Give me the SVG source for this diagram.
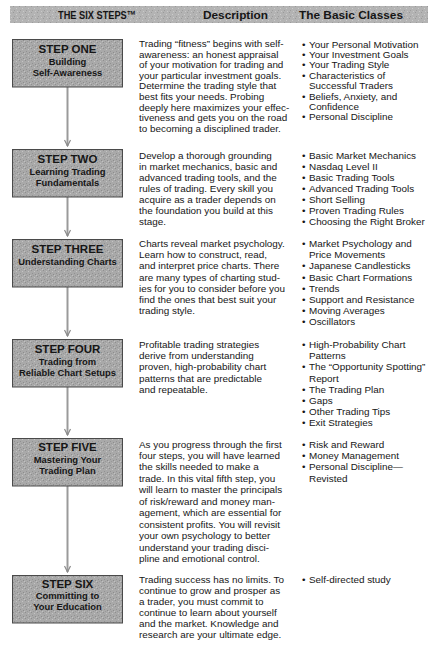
<svg xmlns="http://www.w3.org/2000/svg" width="436" height="646" viewBox="0 0 436 646">
<defs>
<pattern id="grain" width="6" height="6" patternUnits="userSpaceOnUse">
<rect width="6" height="6" fill="#a9a9a9"/>
<rect x="1" y="0" width="1" height="1" fill="#8e8e8e"/>
<rect x="4" y="1" width="1" height="1" fill="#c4c4c4"/>
<rect x="2" y="3" width="1" height="1" fill="#919191"/>
<rect x="5" y="4" width="1" height="1" fill="#8c8c8c"/>
<rect x="0" y="5" width="1" height="1" fill="#c2c2c2"/>
<rect x="3" y="5" width="1" height="1" fill="#999"/>
</pattern>
<pattern id="grainH" width="6" height="6" patternUnits="userSpaceOnUse">
<rect width="6" height="6" fill="#b3b3b3"/>
<rect x="1" y="0" width="1" height="1" fill="#9a9a9a"/>
<rect x="4" y="2" width="1" height="1" fill="#cdcdcd"/>
<rect x="2" y="4" width="1" height="1" fill="#9c9c9c"/>
<rect x="5" y="5" width="1" height="1" fill="#c9c9c9"/>
</pattern>
<marker id="ah" markerWidth="8" markerHeight="8" refX="4" refY="7" orient="0" markerUnits="userSpaceOnUse">
<path d="M1,1 L4,7 L7,1" fill="none" stroke="#8a8a8a" stroke-width="1.2"/>
</marker>
</defs>
<style>
text { font-family: "Liberation Sans", Arial, Helvetica, sans-serif; fill: #161616; }
.hdr { font-weight: bold; font-size: 11.5px; }
.t1 { font-weight: bold; font-size: 11.5px; text-anchor: middle; }
.t2 { font-weight: bold; font-size: 9.4px; text-anchor: middle; }
.d { font-size: 9.9px; }
.box { fill: url(#grain); stroke: #4a4a4a; stroke-width: 1; }
.conn { stroke: #9a9a9a; stroke-width: 2; fill: none; marker-end: url(#ah); }
</style>
<rect width="436" height="646" fill="#ffffff"/>
<g id="header">
<rect x="10" y="6" width="418" height="17" fill="url(#grainH)"/>
<text class="hdr" x="58" y="19" textLength="78" lengthAdjust="spacingAndGlyphs">THE SIX STEPS™</text>
<text class="hdr" x="203" y="19" textLength="65" lengthAdjust="spacingAndGlyphs">Description</text>
<text class="hdr" x="299" y="19" textLength="104" lengthAdjust="spacingAndGlyphs">The Basic Classes</text>
</g>
<g id="connectors">
<line class="conn" x1="67.5" y1="87" x2="67.5" y2="146"/>
<line class="conn" x1="67.5" y1="197" x2="67.5" y2="236"/>
<line class="conn" x1="67.5" y1="287" x2="67.5" y2="336"/>
<line class="conn" x1="67.5" y1="387" x2="67.5" y2="435"/>
<line class="conn" x1="67.5" y1="486" x2="67.5" y2="572"/>
</g>
<g id="step1">
<rect class="box" x="12.5" y="39.5" width="110" height="47.5"/>
<text class="t1" x="67.5" y="53">STEP ONE</text>
<text class="t2" x="67.5" y="64.5">Building</text>
<text class="t2" x="67.5" y="76">Self-Awareness</text>
<text class="d" x="139" y="47"><tspan x="139">Trading “fitness” begins with self-</tspan><tspan x="139" dy="10.6">awareness: an honest appraisal</tspan><tspan x="139" dy="10.6">of your motivation for trading and</tspan><tspan x="139" dy="10.6">your particular investment goals.</tspan><tspan x="139" dy="10.6">Determine the trading style that</tspan><tspan x="139" dy="10.6">best fits your needs. Probing</tspan><tspan x="139" dy="10.6">deeply here maximizes your effec-</tspan><tspan x="139" dy="10.6">tiveness and gets you on the road</tspan><tspan x="139" dy="10.6">to becoming a disciplined trader.</tspan></text>
<text class="d" x="302" y="47.5"><tspan x="302">•</tspan><tspan x="302" dy="10.4">•</tspan><tspan x="302" dy="10.4">•</tspan><tspan x="302" dy="10.4">•</tspan><tspan x="302" dy="20.8">•</tspan><tspan x="302" dy="20.8">•</tspan></text>
<text class="d" x="309" y="47.5"><tspan x="309">Your Personal Motivation</tspan><tspan x="309" dy="10.4">Your Investment Goals</tspan><tspan x="309" dy="10.4">Your Trading Style</tspan><tspan x="309" dy="10.4">Characteristics of</tspan><tspan x="309" dy="10.4">Successful Traders</tspan><tspan x="309" dy="10.4">Beliefs, Anxiety, and</tspan><tspan x="309" dy="10.4">Confidence</tspan><tspan x="309" dy="10.4">Personal Discipline</tspan></text>
</g>
<g id="step2">
<rect class="box" x="12.5" y="149.5" width="110" height="47.5"/>
<text class="t1" x="67.5" y="162.5">STEP TWO</text>
<text class="t2" x="67.5" y="174.5">Learning Trading</text>
<text class="t2" x="67.5" y="186">Fundamentals</text>
<text class="d" x="139" y="158.5"><tspan x="139">Develop a thorough grounding</tspan><tspan x="139" dy="11">in market mechanics, basic and</tspan><tspan x="139" dy="11">advanced trading tools, and the</tspan><tspan x="139" dy="11">rules of trading. Every skill you</tspan><tspan x="139" dy="11">acquire as a trader depends on</tspan><tspan x="139" dy="11">the foundation you build at this</tspan><tspan x="139" dy="11">stage.</tspan></text>
<text class="d" x="302" y="158.5"><tspan x="302">•</tspan><tspan x="302" dy="11">•</tspan><tspan x="302" dy="11">•</tspan><tspan x="302" dy="11">•</tspan><tspan x="302" dy="11">•</tspan><tspan x="302" dy="11">•</tspan><tspan x="302" dy="11">•</tspan></text>
<text class="d" x="309" y="158.5"><tspan x="309">Basic Market Mechanics</tspan><tspan x="309" dy="11">Nasdaq Level II</tspan><tspan x="309" dy="11">Basic Trading Tools</tspan><tspan x="309" dy="11">Advanced Trading Tools</tspan><tspan x="309" dy="11">Short Selling</tspan><tspan x="309" dy="11">Proven Trading Rules</tspan><tspan x="309" dy="11">Choosing the Right Broker</tspan></text>
</g>
<g id="step3">
<rect class="box" x="12.5" y="239.5" width="110" height="47.5"/>
<text class="t1" x="67.5" y="253">STEP THREE</text>
<text class="t2" x="67.5" y="264.5">Understanding Charts</text>
<text class="d" x="139" y="247"><tspan x="139">Charts reveal market psychology.</tspan><tspan x="139" dy="11.2">Learn how to construct, read,</tspan><tspan x="139" dy="11.2">and interpret price charts. There</tspan><tspan x="139" dy="11.2">are many types of charting stud-</tspan><tspan x="139" dy="11.2">ies for you to consider before you</tspan><tspan x="139" dy="11.2">find the ones that best suit your</tspan><tspan x="139" dy="11.2">trading style.</tspan></text>
<text class="d" x="302" y="247"><tspan x="302">•</tspan><tspan x="302" dy="22.4">•</tspan><tspan x="302" dy="11.2">•</tspan><tspan x="302" dy="11.2">•</tspan><tspan x="302" dy="11.2">•</tspan><tspan x="302" dy="11.2">•</tspan><tspan x="302" dy="11.2">•</tspan></text>
<text class="d" x="309" y="247"><tspan x="309">Market Psychology and</tspan><tspan x="309" dy="11.2">Price Movements</tspan><tspan x="309" dy="11.2">Japanese Candlesticks</tspan><tspan x="309" dy="11.2">Basic Chart Formations</tspan><tspan x="309" dy="11.2">Trends</tspan><tspan x="309" dy="11.2">Support and Resistance</tspan><tspan x="309" dy="11.2">Moving Averages</tspan><tspan x="309" dy="11.2">Oscillators</tspan></text>
</g>
<g id="step4">
<rect class="box" x="12.5" y="339.5" width="110" height="47.5"/>
<text class="t1" x="67.5" y="353">STEP FOUR</text>
<text class="t2" x="67.5" y="364.5">Trading from</text>
<text class="t2" x="67.5" y="376">Reliable Chart Setups</text>
<text class="d" x="139" y="348"><tspan x="139">Profitable trading strategies</tspan><tspan x="139" dy="11.2">derive from understanding</tspan><tspan x="139" dy="11.2">proven, high-probability chart</tspan><tspan x="139" dy="11.2">patterns that are predictable</tspan><tspan x="139" dy="11.2">and repeatable.</tspan></text>
<text class="d" x="302" y="348"><tspan x="302">•</tspan><tspan x="302" dy="22.4">•</tspan><tspan x="302" dy="22.4">•</tspan><tspan x="302" dy="11.2">•</tspan><tspan x="302" dy="11.2">•</tspan><tspan x="302" dy="11.2">•</tspan></text>
<text class="d" x="309" y="348"><tspan x="309">High-Probability Chart</tspan><tspan x="309" dy="11.2">Patterns</tspan><tspan x="309" dy="11.2">The “Opportunity Spotting”</tspan><tspan x="309" dy="11.2">Report</tspan><tspan x="309" dy="11.2">The Trading Plan</tspan><tspan x="309" dy="11.2">Gaps</tspan><tspan x="309" dy="11.2">Other Trading Tips</tspan><tspan x="309" dy="11.2">Exit Strategies</tspan></text>
</g>
<g id="step5">
<rect class="box" x="12.5" y="438.5" width="110" height="47.5"/>
<text class="t1" x="67.5" y="451">STEP FIVE</text>
<text class="t2" x="67.5" y="462.5">Mastering Your</text>
<text class="t2" x="67.5" y="474">Trading Plan</text>
<text class="d" x="139" y="447.5"><tspan x="139">As you progress through the first</tspan><tspan x="139" dy="11.45">four steps, you will have learned</tspan><tspan x="139" dy="11.45">the skills needed to make a</tspan><tspan x="139" dy="11.45">trade. In this vital fifth step, you</tspan><tspan x="139" dy="11.45">will learn to master the principals</tspan><tspan x="139" dy="11.45">of risk/reward and money man-</tspan><tspan x="139" dy="11.45">agement, which are essential for</tspan><tspan x="139" dy="11.45">consistent profits. You will revisit</tspan><tspan x="139" dy="11.45">your own psychology to better</tspan><tspan x="139" dy="11.45">understand your trading disci-</tspan><tspan x="139" dy="11.45">pline and emotional control.</tspan></text>
<text class="d" x="302" y="447.5"><tspan x="302">•</tspan><tspan x="302" dy="11.45">•</tspan><tspan x="302" dy="11.45">•</tspan></text>
<text class="d" x="309" y="447.5"><tspan x="309">Risk and Reward</tspan><tspan x="309" dy="11.45">Money Management</tspan><tspan x="309" dy="11.45">Personal Discipline—</tspan><tspan x="309" dy="11.45">Revisted</tspan></text>
</g>
<g id="step6">
<rect class="box" x="12.5" y="575.5" width="110" height="47.5"/>
<text class="t1" x="67.5" y="587.5">STEP SIX</text>
<text class="t2" x="67.5" y="598.5">Committing to</text>
<text class="t2" x="67.5" y="609.5">Your Education</text>
<text class="d" x="139" y="582.5"><tspan x="139">Trading success has no limits. To</tspan><tspan x="139" dy="11.1">continue to grow and prosper as</tspan><tspan x="139" dy="11.1">a trader, you must commit to</tspan><tspan x="139" dy="11.1">continue to learn about yourself</tspan><tspan x="139" dy="11.1">and the market. Knowledge and</tspan><tspan x="139" dy="11.1">research are your ultimate edge.</tspan></text>
<text class="d" x="302" y="582.5">•</text>
<text class="d" x="309" y="582.5">Self-directed study</text>
</g>
</svg>
